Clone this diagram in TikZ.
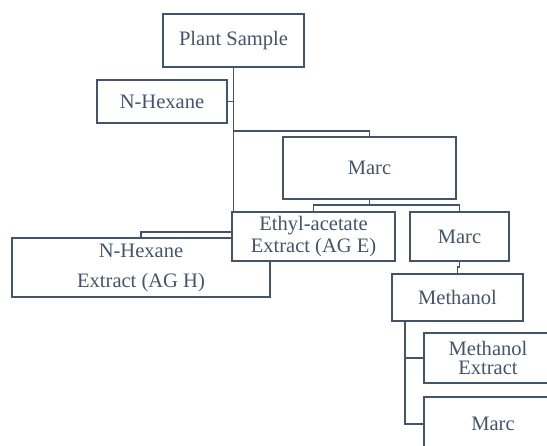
\documentclass[tikz,border=0pt]{standalone}
\usepackage{fontspec}
\setmainfont{Liberation Serif}
\usepackage{xcolor}
\usepackage{tikz}
\usetikzlibrary{positioning, backgrounds}

\definecolor{slate}{HTML}{44546A}

\begin{document}
\begin{tikzpicture}[x=0.75pt, y=-0.75pt,
    box/.style={draw=slate, fill=white, rectangle, inner sep=0pt, align=center,
        line width=1.3pt, text=slate, font=\fontsize{15.4}{17}\selectfont},
    link/.style={draw=slate, line width=1.3pt}]

% Frame
\useasboundingbox (0,0) rectangle (547,446);
\clip (0,0) rectangle (547,446);

% Boxes
\node[box, minimum width=105.75pt, minimum height=39.75pt] (plant) at (233.5,40.5) {Plant Sample};
\node[box, minimum width=97.5pt, minimum height=32.25pt] (hexA) at (162,101.5) {N-Hexane};
\node[box, minimum width=129.75pt, minimum height=46.5pt] (marcA) at (369.5,168) {Marc};
\node[box, minimum width=193.5pt, minimum height=44.25pt,
    font=\fontsize{15.4}{22.5}\selectfont] (hexE) at (141,267.5) {N-Hexane\\Extract (AG H)};
\node[box, minimum width=122.25pt, minimum height=36.75pt,
    font=\fontsize{15.4}{16}\selectfont] (ethyl) at (313.5,236.5) {Ethyl-acetate\\Extract (AG E)};
\node[box, minimum width=74.25pt, minimum height=36.75pt] (marcB) at (459.5,236.5) {Marc};
\node[box, minimum width=98.25pt, minimum height=35.25pt] (meth) at (457.5,297.5) {Methanol};
\node[box, minimum width=96pt, minimum height=37.5pt,
    font=\fontsize{15.4}{14.5}\selectfont] (methE) at (488,358) {Methanol\\Extract};
\node[box, minimum width=103.5pt, minimum height=40.5pt] (marcC) at (493,424) {Marc};

% Junctions
\coordinate (jHex) at (plant.south |- 0,232);
\coordinate (jMarc) at (plant.south |- 0,131);
\coordinate (jSplit) at (marcA.south |- 0,205);
\coordinate (jMeth) at (marcB.south |- 0,267);
\coordinate (trunk) at (meth.south -| 405,0);

% Connectors
\begin{scope}[on background layer]
\draw[link] (plant.south) -- (jHex) -| (hexE.north);
\draw[link] (hexA.east) -- (hexA.east -| plant.south);
\draw[link] (jMarc) -| (marcA.north);
\draw[link] (marcA.south) -- (jSplit) -| (ethyl.north);
\draw[link] (jSplit) -| (marcB.north);
\draw[link] (marcB.south) -- (jMeth) -| (meth.north);
\draw[link] (trunk) |- (methE.west);
\draw[link] (trunk) |- (marcC.west);
\end{scope}

\end{tikzpicture}
\end{document}
